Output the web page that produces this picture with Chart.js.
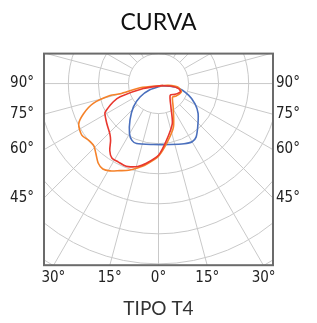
<!DOCTYPE html>
<html>
<head>
<meta charset="utf-8">
<title>Curva</title>
<script src="https://cdn.jsdelivr.net/npm/chart.js@4"></script>
<style>
  html, body { margin: 0; padding: 0; background: #fff; }
</style>
</head>
<body>
<canvas id="curve-chart" width="317" height="323"></canvas>
<script>
// Photometric curves.
// Angle from nadir in degrees (+ = right side), intensity where one grid ring = 100.
const blueAngles = [58, 78, 69, 61, 53, 42, 35, 30, 23, 11, -5, -20, -25, -30, -38, -47, -54, -54, 58];
const blueValues = [13, 63, 107, 139, 165, 195, 218, 224, 218, 207, 204, 213, 209, 193, 154, 114, 76, 34, 13];

const redAngles = [58, -72, -71, -68, -63, -61, -52, -44, -40, -36, -32, -27, -23, -20, -14, -9, 0, 8, 19, 28, 45, 57, 69, 76, 78, 58];
const redValues = [13, 53, 135, 162, 194, 204, 218, 233, 248, 276, 293, 294, 296, 295, 285, 270, 239, 191, 141, 88, 55, 66, 78, 69, 40, 13];

const orangeAngles = [58, -77, -75, -76, -73, -68, -63, -56, -51, -46, -42, -37, -33, -29, -24, -19, -14, -9, 0, 9, 19, 32, 46, 55, 70, 80, 80, 58];
const orangeValues = [13, 63, 132, 166, 227, 269, 298, 308, 300, 299, 312, 333, 340, 333, 318, 306, 290, 274, 242, 195, 153, 92, 65, 72, 81, 65, 33, 13];

// Grid and axis labels
const ringStep = 100;
const ringCount = 8;
const xTickAngles = [-30, -15, 0, 15, 30];
const yTickAngles = [90, 75, 60, 45];

const xMin = -381, xMax = 381, yMin = -606, yMax = 100;
const rad = d => d * Math.PI / 180;

// polar (angle from nadir, intensity) -> x/y data points
function toPoints(angles, values) {
  return angles.map((a, i) => ({
    x: values[i] * Math.sin(rad(a)),
    y: -values[i] * Math.cos(rad(a))
  }));
}

const tickFont = { family: "'Liberation Sans Narrow', 'DejaVu Sans Condensed', sans-serif", size: 15 };

// rings + radial spokes every 15 degrees, and the frame
const polarGrid = {
  id: 'polarGrid',
  beforeDatasetsDraw(chart) {
    const { ctx, chartArea: a, scales: { x, y } } = chart;
    const cx = x.getPixelForValue(0);
    const cy = y.getPixelForValue(0);
    const step = x.getPixelForValue(ringStep) - cx;
    ctx.save();
    ctx.beginPath();
    ctx.rect(a.left, a.top, a.width, a.height);
    ctx.clip();
    ctx.strokeStyle = '#c9c9c9';
    ctx.lineWidth = 1;
    for (let i = 1; i <= ringCount; i++) {
      ctx.beginPath();
      ctx.arc(cx, cy, step * i, 0, Math.PI * 2);
      ctx.stroke();
    }
    for (let d = 0; d < 360; d += 15) {
      const s = Math.sin(rad(d)), c = Math.cos(rad(d));
      ctx.beginPath();
      ctx.moveTo(cx + step * s, cy + step * c);
      ctx.lineTo(cx + step * ringCount * s, cy + step * ringCount * c);
      ctx.stroke();
    }
    ctx.restore();
  },
  afterDatasetsDraw(chart) {
    const { ctx, chartArea: a } = chart;
    ctx.save();
    ctx.strokeStyle = '#6b6b6b';
    ctx.lineWidth = 2;
    ctx.strokeRect(a.left, a.top, a.width, a.height);
    ctx.restore();
  }
};

function sideAxis(position, width, padding) {
  return {
    type: 'linear',
    position: position,
    min: yMin,
    max: yMax,
    grid: { display: false, drawTicks: false },
    border: { display: false },
    afterBuildTicks: s => {
      s.ticks = yTickAngles.map(a => ({ value: a === 90 ? 0 : -xMax / Math.tan(rad(a)) }));
    },
    ticks: {
      autoSkip: false,
      padding: padding,
      color: '#222',
      font: tickFont,
      callback: (v, i) => yTickAngles[i] + '°'
    },
    afterFit: s => { s.width = width; }
  };
}

const ctx = document.getElementById('curve-chart').getContext('2d');
new Chart(ctx, {
  type: 'scatter',
  data: {
    datasets: [
      { label: 'C90', data: toPoints(redAngles, redValues), borderColor: '#e8372e', order: 0 },
      { label: 'C0', data: toPoints(orangeAngles, orangeValues), borderColor: '#f5822a', order: 1 },
      { label: 'C180', data: toPoints(blueAngles, blueValues), borderColor: '#4a6fbd', order: 2 }
    ].map(ds => Object.assign(ds, {
      showLine: true,
      pointRadius: 0,
      borderWidth: 1.6,
      tension: 0.25,
      fill: false
    }))
  },
  options: {
    responsive: false,
    animation: false,
    layout: { padding: 0 },
    plugins: {
      legend: { display: false },
      tooltip: { enabled: false },
      title: {
        display: true,
        text: 'CURVA',
        color: '#111',
        font: { family: 'Lato', size: 23, weight: 'normal' },
        padding: { top: 9, bottom: 17 }
      },
      subtitle: {
        display: true,
        position: 'bottom',
        text: 'TIPO T4',
        color: '#333',
        font: { family: 'Lato', size: 19, weight: 'normal' },
        padding: { top: 10, bottom: 3 }
      }
    },
    scales: {
      x: {
        type: 'linear',
        min: xMin,
        max: xMax,
        grid: { display: false, drawTicks: false },
        border: { display: false },
        afterBuildTicks: s => {
          s.ticks = xTickAngles.map(a => ({ value: -yMin * Math.tan(rad(a)) }));
        },
        ticks: {
          autoSkip: false,
          maxRotation: 0,
          padding: 4,
          color: '#222',
          font: tickFont,
          callback: (v, i) => Math.abs(xTickAngles[i]) + '°'
        },
        afterFit: s => { s.height = 22; }
      },
      y: sideAxis('left', 44, 10),
      y2: sideAxis('right', 44, 3)
    }
  },
  plugins: [polarGrid]
});
</script>
</body>
</html>
